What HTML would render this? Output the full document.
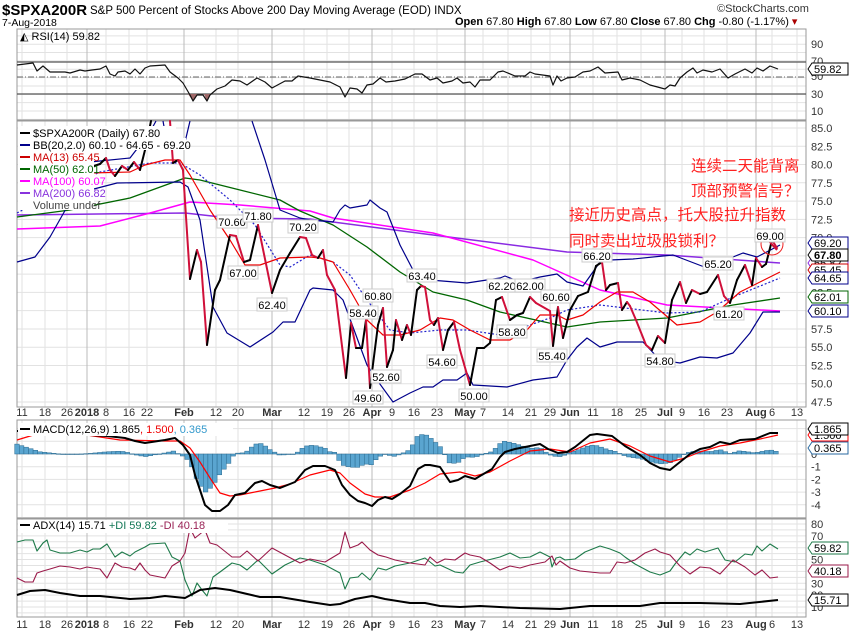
<!DOCTYPE html>
<html><head><meta charset="utf-8"><style>
body{margin:0;background:#fff;}
svg{display:block;font-family:"Liberation Sans",sans-serif;}
.t{font-size:11px;fill:#000}
.ax{font-size:11px;fill:#333}
</style></head><body>
<svg id="s" width="850" height="633" xmlns="http://www.w3.org/2000/svg">
<rect width="850" height="633" fill="#fff"/>
<g id="grid"></g>
<g id="lines"></g>
<g id="txt">
<text x="2" y="15" style="font-size:15px;font-weight:bold">$SPXA200R</text>
<text x="90" y="14" style="font-size:11.5px">S&amp;P 500 Percent of Stocks Above 200 Day Moving Average (EOD)  INDX</text>
<text x="2" y="26" style="font-size:10.5px">7-Aug-2018</text>
<text x="717" y="12" style="font-size:11px;fill:#333">©StockCharts.com</text>
<text x="455" y="25" style="font-size:11px"><tspan font-weight="bold">Open</tspan> 67.80 <tspan font-weight="bold">High</tspan> 67.80 <tspan font-weight="bold">Low</tspan> 67.80 <tspan font-weight="bold">Close</tspan> 67.80 <tspan font-weight="bold">Chg</tspan> -0.80 (-1.17%) <tspan fill="#a00">▾</tspan></text>
<text x="20" y="40" class="t">◭ RSI(14) 59.82</text>
<rect x="18" y="126" width="158" height="12" fill="#fff"/>
<rect x="18" y="138" width="168" height="12" fill="#fff"/>
<rect x="18" y="150" width="76" height="60" fill="#fff"/>
<g class="t">
<text x="33" y="137">$SPXA200R (Daily) 67.80</text>
<text x="33" y="149">BB(20,2.0) 60.10 - 64.65 - 69.20</text>
<text x="33" y="161" fill="#c00">MA(13) 65.45</text>
<text x="33" y="173" fill="#060">MA(50) 62.01</text>
<text x="33" y="185" fill="#f0f">MA(100) 60.07</text>
<text x="33" y="197" fill="#83d">MA(200) 66.82</text>
<text x="33" y="209" fill="#444">Volume undef</text>
</g>
<line x1="20" y1="133" x2="30" y2="133" stroke="#000" stroke-width="2"/>
<line x1="20" y1="145" x2="30" y2="145" stroke="#00008b" stroke-width="2"/>
<line x1="20" y1="157" x2="30" y2="157" stroke="#c00" stroke-width="2"/>
<line x1="20" y1="169" x2="30" y2="169" stroke="#060" stroke-width="2"/>
<line x1="20" y1="181" x2="30" y2="181" stroke="#f0f" stroke-width="2"/>
<line x1="20" y1="193" x2="30" y2="193" stroke="#83d" stroke-width="2"/>
<g style="font-family:'Liberation Sans','Noto Sans CJK SC',sans-serif;font-size:15.5px;fill:#f22">
<text x="691" y="171">连续二天能背离</text>
<text x="691" y="196">顶部预警信号？</text>
<text x="569" y="220">接近历史高点，托大股拉升指数</text>
<text x="569" y="246">同时卖出垃圾股锁利？</text>
</g>
</g>
<g id="leg2">
<rect x="18" y="423" width="215" height="13" fill="#fff"/>
<line x1="20" y1="429" x2="30" y2="429" stroke="#000" stroke-width="2"/>
<text x="33" y="433" class="t">MACD(12,26,9) 1.865<tspan fill="#e00">, 1.500</tspan><tspan fill="#39c">, 0.365</tspan></text>
<rect x="18" y="520" width="210" height="13" fill="#fff"/>
<line x1="20" y1="525" x2="30" y2="525" stroke="#000" stroke-width="2"/>
<text x="33" y="529" class="t">ADX(14) 15.71 <tspan fill="#175">+DI 59.82</tspan> <tspan fill="#925">-DI 40.18</tspan></text>
</g>
</svg>
<script>
var NS="http://www.w3.org/2000/svg",S=document.getElementById('s'),G=document.getElementById('grid'),L=document.getElementById('lines'),T=document.getElementById('txt');
function el(p,tag,a,txt){var e=document.createElementNS(NS,tag);for(var k in a)e.setAttribute(k,a[k]);if(txt!=null)e.textContent=txt;p.appendChild(e);return e;}
var X0=17,X1=806;
var dates=[[22,"11"],[45,"18"],[67,"26"],[87,"2018",1],[106,"8"],[129,"16"],[147,"22"],[184,"Feb",1],[216,"12"],[238,"20"],[272,"Mar",1],[304,"12"],[327,"19"],[349,"26"],[372,"Apr",1],[392,"9"],[414,"16"],[437,"23"],[465,"May",1],[483,"7"],[508,"14"],[531,"21"],[550,"29"],[570,"Jun",1],[593,"11"],[617,"18"],[641,"25"],[665,"Jul",1],[682,"9"],[704,"16"],[727,"23"],[756,"Aug",1],[772,"6"],[797,"13"]];
var panels=[[29,120],[121,407],[420,518],[519,617]];
function hg(y0,y1,ys){ys.forEach(function(y){el(G,'line',{x1:X0,x2:X1,y1:y,y2:y,stroke:'#e2e2e2','stroke-width':1});});}
var rs=[];for(var v=0;v<=100;v+=10)rs.push(111-(v-10)*0.835);hg(0,0,rs.filter(function(y){return y>29&&y<120}));
var py=function(v){return 128+(85-v)*7.307};var ps=[];for(var v=47.5;v<=85.1;v+=2.5)ps.push(py(v));hg(0,0,ps);
var my=function(v){return 454-v*12.7};var ms=[];for(var v=-5;v<=2;v++)ms.push(my(v));hg(0,0,ms.filter(function(y){return y>420&&y<518}));
var ay=function(v){return 607-(v-10)*1.186};var as=[];for(var v=5;v<=85;v+=5)as.push(ay(v));hg(0,0,as.filter(function(y){return y>519&&y<617}));
panels.forEach(function(p){dates.forEach(function(d){el(G,'line',{x1:d[0],x2:d[0],y1:p[0],y2:p[1],stroke:d[2]?'#bbb':'#e2e2e2','stroke-width':1});});
 el(G,'rect',{x:X0,y:p[0],width:X1-X0,height:p[1]-p[0],fill:'none',stroke:'#999','stroke-width':1});});
[[412],[624]].forEach(function(r){dates.forEach(function(d){el(T,'text',{x:d[0],y:r[0]+4,'text-anchor':'middle',class:'ax','font-weight':d[2]?'bold':'normal','font-size':d[2]?'12px':'11px'},d[1]);});});
[[62,'#555'],[94,'#555']].forEach(function(a){el(G,'line',{x1:X0,x2:X1,y1:a[0],y2:a[0],stroke:a[1],'stroke-width':1.2});});
el(G,'line',{x1:X0,x2:X1,y1:77,y2:77,stroke:'#666','stroke-dasharray':'6,2,1,2'});
[[44,'90'],[61,'70'],[76,'50'],[94,'30'],[111,'10']].forEach(function(a){el(T,'text',{x:811,y:a[0]+4,class:'ax'},a[1]);});
for(var v=47.5;v<=85.1;v+=2.5)el(T,'text',{x:811,y:py(v)+4,class:'ax'},v.toFixed(1));
[[1,'1'],[0,'0'],[-1,'-1'],[-2,'-2'],[-3,'-3'],[-4,'-4']].forEach(function(a){el(T,'text',{x:811,y:my(a[0])+4,class:'ax'},a[1]);});
[80,70,60,50,40,30,20,10].forEach(function(v){el(T,'text',{x:811,y:ay(v)+4,class:'ax'},v);});
function P(pts){return pts.map(function(p){return p[0]+','+p[1]}).join(' ')}
function pl(pts,c,w,dash){var a={points:P(pts),fill:'none',stroke:c,'stroke-width':w||1,'stroke-linejoin':'round'};if(dash)a['stroke-dasharray']=dash;el(L,'polyline',a);}
function interp(pts,x){for(var i=0;i<pts.length-1;i++){if(x>=pts[i][0]&&x<=pts[i+1][0]){var t=(x-pts[i][0])/(pts[i+1][0]-pts[i][0]||1);return pts[i][1]+t*(pts[i+1][1]-pts[i][1]);}}return null;}
var rsi=[[17,65],[33,63],[37,71],[43,66],[50,72],[65,72],[70,73],[80,70],[85,71],[92,70],[100,69],[106,66],[110,74],[115,76],[118,72],[125,71],[130,74],[135,69],[140,74],[145,68],[150,66],[165,65],[170,72],[178,78],[183,83],[190,95],[193,101],[197,95],[203,95],[207,101],[210,95],[217,89],[225,86],[232,80],[240,81],[247,85],[257,78],[265,82],[272,88],[285,81],[292,81],[298,76],[310,78],[320,80],[330,82],[340,87],[345,97],[350,88],[357,89],[362,93],[367,85],[373,84],[380,78],[386,82],[395,81],[400,80],[405,79],[415,74],[422,74],[430,80],[437,78],[443,83],[452,81],[457,78],[463,83],[470,82],[475,87],[480,80],[490,80],[498,72],[503,71],[515,76],[525,76],[530,72],[535,74],[550,76],[553,85],[557,76],[561,81],[567,78],[575,77],[583,72],[590,71],[598,67],[605,73],[618,72],[622,80],[630,78],[640,80],[650,85],[665,89],[670,85],[675,86],[680,78],[687,72],[693,68],[697,73],[703,70],[712,72],[720,69],[728,78],[735,74],[745,69],[752,73],[757,68],[763,71],[770,66],[778,69]];
el(L,'polygon',{points:'188,94 193,101 197,94',fill:'#a06868'});el(L,'polygon',{points:'204,94 207,101 211,94',fill:'#a06868'});
pl(rsi,'#111',1.2);
var up=[[90,162],[130,158],[150,132],[156,121]],up2=[[163,121],[167,143],[185,142],[190,121]],
up3=[[252,121],[265,160],[280,210],[300,218],[310,220],[333,222],[340,210],[345,205],[350,208],[367,205],[370,200],[380,208],[387,212],[400,245],[413,270],[417,280],[430,280],[467,283],[500,278],[505,276],[520,282],[540,277],[557,274],[567,282],[583,286],[600,262],[610,260],[633,259],[673,255],[707,268],[720,270],[733,257],[743,253],[757,257],[780,245]];
var lo=[[17,262],[35,257],[50,237],[67,207],[90,190],[117,183],[180,182],[188,187],[200,220],[213,307],[227,333],[250,347],[273,332],[283,322],[295,322],[310,290],[313,288],[333,290],[343,300],[367,365],[377,380],[393,402],[410,393],[423,387],[433,387],[443,380],[457,380],[467,373],[473,385],[507,387],[533,380],[557,377],[567,360],[577,347],[587,338],[600,347],[617,342],[643,342],[660,360],[680,363],[700,357],[717,358],[733,353],[750,333],[763,312],[780,312]];
var m200=[[17,215],[185,213],[230,218],[310,219],[433,235],[567,252],[667,255],[780,263]];
var m100=[[17,229],[100,226],[150,213],[190,202],[240,205],[310,211],[333,218],[433,233],[533,260],[600,290],[667,305],[780,311]];
var m50=[[17,217],[70,210],[130,198],[185,178],[200,180],[240,190],[280,200],[300,211],[333,225],[367,247],[400,272],[433,292],[467,300],[500,312],[567,327],[600,322],[667,318],[733,305],[780,298]];
var m20=[[17,213],[60,190],[100,172],[150,163],[180,163],[200,175],[230,200],[255,225],[280,265],[290,267],[310,255],[333,262],[350,275],[367,300],[390,330],[410,333],[440,330],[467,330],[500,335],[530,325],[550,318],[567,310],[600,305],[667,313],[700,312],[733,297],[780,278]];
var m13=[[90,173],[130,172],[145,165],[165,160],[180,160],[190,175],[210,210],[230,240],[245,265],[260,265],[280,258],[310,257],[320,258],[333,262],[350,290],[367,320],[383,335],[400,335],[420,330],[440,318],[453,320],[470,330],[490,340],[510,340],[527,330],[540,315],[557,315],[567,320],[583,315],[600,302],[617,292],[633,292],[650,302],[677,325],[700,322],[717,312],[740,292],[780,272]];
pl(m200,'#8a2be2',1.5);pl(m100,'#f0f',1.5);pl(m50,'#060',1.3);
pl(up,'#00008b',1.2);pl(up2,'#00008b',1.2);pl(up3,'#00008b',1.2);pl(lo,'#00008b',1.2);
pl(m20,'#22c',1.2,'2,2');pl(m13,'#e00',1.2);
var pr=[[88,168],[100,164],[106,158],[110,170],[115,176],[122,166],[128,170],[134,162],[140,170],[145,150],[151,121],
[170,121],[173,163],[178,160],[183,170],[190,279],[197,250],[201,262],[207,345],[215,290],[220,280],[230,235],[236,236],[244,262],[250,260],[258,225],[272,293],[280,270],[290,253],[300,237],[306,238],[312,255],[318,258],[323,250],[327,275],[335,290],[346,378],[351,323],[356,348],[362,348],[366,320],[370,388],[378,325],[383,308],[387,367],[393,350],[396,320],[402,340],[407,325],[411,335],[417,290],[421,286],[425,287],[430,320],[434,325],[438,318],[443,350],[448,330],[454,322],[460,350],[470,385],[477,348],[484,348],[490,343],[496,300],[502,297],[510,320],[517,315],[523,313],[530,297],[536,303],[550,311],[553,346],[558,307],[563,338],[570,310],[578,296],[588,292],[596,266],[602,262],[606,290],[610,285],[618,283],[622,310],[627,302],[630,306],[636,320],[646,345],[652,350],[658,336],[665,343],[672,300],[680,282],[686,303],[692,290],[700,294],[707,292],[718,275],[724,296],[730,303],[737,280],[745,265],[752,285],[756,258],[762,267],[766,264],[772,240],[777,248]];
for(var i=0;i<pr.length-1;i++){if(pr[i][1]<=121&&pr[i+1][1]<=121)continue;el(L,'line',{x1:pr[i][0],y1:pr[i][1],x2:pr[i+1][0],y2:pr[i+1][1],stroke:pr[i+1][1]>pr[i][1]?'#d0103a':'#000','stroke-width':2,'stroke-linecap':'round'});}
el(L,'circle',{cx:772,cy:244,r:11,fill:'none',stroke:'#e22','stroke-width':1});
el(L,'line',{x1:768,y1:240,x2:777,y2:250,stroke:'#d0103a','stroke-width':2});
[[232,222,'70.60'],[258,216,'71.80'],[243,273,'67.00'],[272,305,'62.40'],[303,227,'70.20'],[363,313,'58.40'],[378,296,'60.80'],[386,377,'52.60'],[368,398,'49.60'],[422,276,'63.40'],[442,362,'54.60'],[474,396,'50.00'],[502,286,'62.20'],[512,332,'58.80'],[530,286,'62.00'],[556,297,'60.60'],[552,356,'55.40'],[597,256,'66.20'],[718,264,'65.20'],[729,314,'61.20'],[660,361,'54.80'],[770,236,'69.00']].forEach(function(a){
 el(T,'rect',{x:a[0]-15,y:a[1]-7,width:30,height:13,fill:'#fff',stroke:'#ccc','stroke-width':1});
 el(T,'text',{x:a[0],y:a[1]+4,'text-anchor':'middle',class:'t','font-size':'10.5px'},a[2]);});
function tag(y,txt,c,b){el(T,'polygon',{points:'808,'+y+' 812,'+(y-6)+' 848,'+(y-6)+' 848,'+(y+6)+' 812,'+(y+6),fill:'#fff',stroke:c,'stroke-width':1});
 el(T,'text',{x:814,y:y+4,class:'t','font-weight':b?'bold':'normal'},txt);}
tag(243,'69.20','#00008b');tag(263,'66.82','#8a2be2');tag(270,'65.45','#c00');tag(278,'64.65','#00008b');tag(297,'62.01','#060');tag(311,'60.10','#00008b');tag(255,'67.80','#000',1);
var mac=[[17,431],[60,431],[70,433],[90,435],[107,436],[125,438],[135,441],[145,443],[165,440],[175,438],[183,445],[190,455],[195,475],[200,490],[205,505],[212,511],[220,511],[228,505],[235,495],[245,493],[255,483],[262,481],[270,485],[280,488],[295,482],[305,470],[313,466],[325,466],[335,470],[342,485],[350,495],[358,501],[365,503],[372,506],[378,500],[385,497],[392,499],[400,494],[410,486],[418,469],[425,465],[430,465],[440,467],[450,482],[458,480],[465,476],[475,479],[480,476],[492,469],[500,457],[505,452],[515,449],[530,446],[540,444],[548,449],[558,453],[567,452],[575,447],[590,435],[597,434],[612,436],[625,446],[640,455],[650,463],[660,468],[670,470],[680,462],[690,454],[700,449],[710,447],[720,442],[730,444],[740,440],[755,439],[770,433],[778,433]];
var sig=[[17,440],[40,433],[60,431],[80,434],[120,440],[165,441],[180,441],[190,448],[200,462],[210,478],[220,493],[230,496],[240,495],[255,492],[275,488],[290,484],[310,475],[330,470],[340,473],[350,483],[365,494],[375,497],[390,497],[410,490],[425,483],[440,474],[460,472],[475,476],[490,472],[510,461],[530,451],[550,449],[570,452],[590,443],[610,439],[630,446],[650,456],[670,462],[685,458],[700,452],[720,446],[740,443],[760,439],[778,435]];
for(var x=17;x<=778;x+=4.6){var a=interp(mac,x),b=interp(sig,x);if(a==null||b==null)continue;var d=(a-b)*1.1;var y0=454,y1=454+d;
 el(L,'rect',{x:x-2.3,y:Math.min(y0,y1),width:4.6,height:Math.max(Math.abs(d),0.5),fill:'#5aa5d0',stroke:'#2a6a90','stroke-width':0.5});}
pl(sig,'#f00',1.2);pl(mac,'#000',2);
function tag2(y,txt,c){el(T,'polygon',{points:'808,'+y+' 812,'+(y-6)+' 848,'+(y-6)+' 848,'+(y+6)+' 812,'+(y+6),fill:'#fff',stroke:c});el(T,'text',{x:814,y:y+4,class:'t'},txt);}
tag2(435,'1.500','#f00');tag2(429,'1.865','#000');tag2(448,'0.365','#2a6aa0');
var gp=[[17,542],[25,540],[33,540],[37,551],[43,543],[47,540],[50,550],[60,553],[70,553],[80,550],[87,552],[93,549],[100,549],[107,544],[115,557],[122,552],[130,556],[135,552],[145,547],[150,544],[165,543],[172,557],[180,561],[185,580],[192,596],[197,583],[202,590],[207,596],[213,577],[220,572],[232,563],[240,565],[247,570],[258,560],[272,574],[285,565],[300,558],[310,560],[325,565],[340,573],[345,589],[350,578],[358,577],[362,573],[370,580],[378,568],[386,570],[395,566],[410,563],[425,558],[435,566],[440,565],[455,572],[463,573],[470,565],[480,562],[500,557],[510,553],[520,558],[530,557],[540,552],[550,557],[552,567],[556,558],[560,557],[565,560],[575,559],[585,552],[600,546],[610,549],[620,553],[625,557],[635,564],[650,572],[660,575],[670,571],[675,564],[685,552],[690,555],[697,549],[705,552],[718,548],[725,560],[735,562],[745,554],[752,555],[757,546],[762,551],[770,544],[778,549]];
var rp=[[17,578],[25,582],[33,582],[37,573],[43,571],[50,569],[60,566],[70,567],[80,569],[87,567],[93,568],[100,569],[107,578],[115,563],[122,567],[130,568],[135,570],[140,563],[145,570],[150,575],[165,578],[172,566],[180,561],[185,553],[190,528],[195,538],[200,534],[205,530],[210,543],[217,545],[232,557],[240,557],[247,551],[258,561],[272,548],[285,555],[300,563],[310,559],[325,562],[340,553],[345,532],[350,548],[358,545],[362,542],[370,550],[378,555],[386,557],[395,560],[410,563],[425,565],[430,557],[437,563],[445,559],[455,560],[465,553],[470,555],[480,557],[490,563],[500,570],[510,566],[520,568],[530,565],[545,562],[552,556],[556,565],[560,561],[570,568],[580,571],[600,573],[610,573],[617,562],[625,563],[635,560],[645,553],[655,549],[660,552],[670,555],[680,566],[690,574],[700,567],[710,568],[720,574],[733,560],[745,567],[755,575],[762,570],[770,578],[778,577]];
var ad=[[17,595],[30,591],[45,590],[60,593],[80,596],[100,596],[130,599],[150,598],[165,596],[185,598],[200,590],[215,588],[230,590],[260,597],[280,597],[310,602],[330,605],[340,604],[355,599],[372,596],[385,599],[410,603],[425,603],[440,606],[460,607],[480,606],[520,608],[560,609],[590,606],[640,606],[660,603],[700,603],[740,604],[778,600]];
pl(gp,'#1e7a4a',1.1);pl(rp,'#9a1a4a',1.1);pl(ad,'#000',2);
tag2(548,'59.82','#1e7a4a');tag2(571,'40.18','#9a1a4a');tag2(600,'15.71','#000');
tag2(69,'59.82','#000');
S.appendChild(T);S.appendChild(document.getElementById('leg2'));
</script>
</body></html>
